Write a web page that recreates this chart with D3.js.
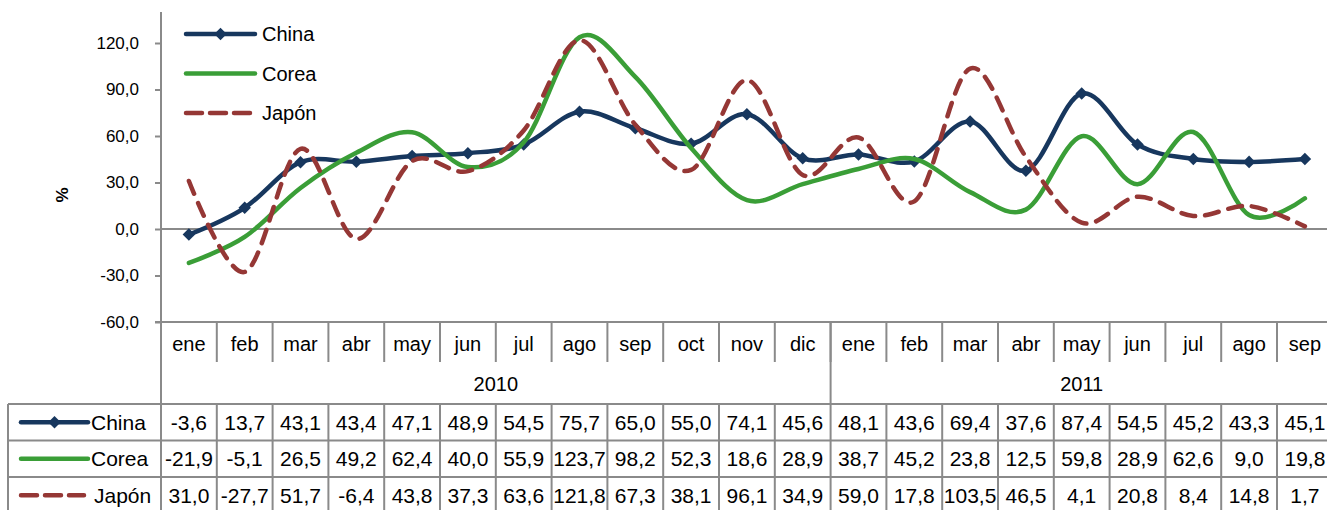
<!DOCTYPE html>
<html>
<head>
<meta charset="utf-8">
<script src="https://cdn.jsdelivr.net/npm/d3@7"></script>
<style>
  body { margin: 0; background: #fff; }
  text { font-family: "Liberation Sans", Arial, sans-serif; fill: #000; }
</style>
</head>
<body>
<div id="chart"></div>
<script>
const months = ["ene","feb","mar","abr","may","jun","jul","ago","sep","oct","nov","dic",
                "ene","feb","mar","abr","may","jun","jul","ago","sep"];
const yearLabels = ["2010", "2011"];
const monthsPerYear = [12, 9];

const china = [-3.6,13.7,43.1,43.4,47.1,48.9,54.5,75.7,65.0,55.0,74.1,45.6,48.1,43.6,69.4,37.6,87.4,54.5,45.2,43.3,45.1];
const corea = [-21.9,-5.1,26.5,49.2,62.4,40.0,55.9,123.7,98.2,52.3,18.6,28.9,38.7,45.2,23.8,12.5,59.8,28.9,62.6,9.0,19.8];
const japon = [31.0,-27.7,51.7,-6.4,43.8,37.3,63.6,121.8,67.3,38.1,96.1,34.9,59.0,17.8,103.5,46.5,4.1,20.8,8.4,14.8,1.7];
const yTicks = [-60, -30, 0, 30, 60, 90, 120];

const series = [
    { name: "China", values: china, color: "#17375e", dash: null, marker: true },
    { name: "Corea", values: corea, color: "#3a9e37", dash: null, marker: false },
    { name: "Japón", values: japon, color: "#953735", dash: "14,10", marker: false }
];

const width = 1327, height = 510;
const plotLeft = 161, bandW = 55.8;
const plotTop = 12, plotBottom = 322;
const catBottom = 362, yearBottom = 404, rowH = 36.5, tableLeft = 8;
const gridColor = "#8a8a8a";

// Spanish style: decimal comma, plain hyphen for negatives
const locale = d3.formatLocale({ decimal: ",", thousands: ".", grouping: [3], currency: ["", "€"], minus: "-" });
const fmt = locale.format(".1f");

const svg = d3.select("#chart").append("svg")
    .attr("width", width)
    .attr("height", height);

const x = d3.scaleBand()
    .domain(d3.range(months.length))
    .range([plotLeft, plotLeft + bandW * months.length]);

const y = d3.scaleLinear()
    .domain([-60, 140])
    .range([plotBottom, plotTop]);

const xMid = i => x(i) + x.bandwidth() / 2;
const xRight = x.range()[1];

// y axis
const yAxis = svg.append("g")
    .attr("transform", "translate(" + plotLeft + ",0)")
    .call(d3.axisLeft(y).tickValues(yTicks).tickSize(6).tickPadding(16).tickFormat(fmt));
yAxis.select(".domain").remove();
yAxis.selectAll(".tick line").attr("stroke", gridColor).attr("stroke-width", 2);
yAxis.selectAll(".tick text").attr("font-size", 17);

svg.append("line")
    .attr("x1", plotLeft).attr("x2", plotLeft)
    .attr("y1", plotTop).attr("y2", yearBottom)
    .attr("stroke", gridColor).attr("stroke-width", 2);

// zero line
svg.append("line")
    .attr("x1", plotLeft).attr("x2", xRight)
    .attr("y1", y(0)).attr("y2", y(0))
    .attr("stroke", gridColor).attr("stroke-width", 2);

svg.append("text")
    .attr("transform", "translate(68,195) rotate(-90)")
    .attr("text-anchor", "middle")
    .attr("font-size", 17)
    .attr("font-weight", "bold")
    .text("%");

// category axis (months and years)
svg.append("line")
    .attr("x1", plotLeft - 6).attr("x2", xRight)
    .attr("y1", y(-60)).attr("y2", y(-60))
    .attr("stroke", gridColor).attr("stroke-width", 2);

svg.selectAll(".mdiv")
    .data(d3.range(1, months.length + 1))
    .enter().append("line")
    .attr("x1", i => x(0) + i * bandW).attr("x2", i => x(0) + i * bandW)
    .attr("y1", y(-60)).attr("y2", catBottom)
    .attr("stroke", gridColor).attr("stroke-width", 2);

svg.selectAll(".mlab")
    .data(months)
    .enter().append("text")
    .attr("x", (d, i) => xMid(i))
    .attr("y", 351)
    .attr("text-anchor", "middle")
    .attr("font-size", 20)
    .text(d => d);

const yearStart = d3.cumsum([0].concat(monthsPerYear));
svg.append("line")
    .attr("x1", x(yearStart[1])).attr("x2", x(yearStart[1]))
    .attr("y1", y(-60)).attr("y2", yearBottom)
    .attr("stroke", gridColor).attr("stroke-width", 2);

yearLabels.forEach((yl, k) => {
    const x0 = x(yearStart[k]);
    const x1 = x0 + monthsPerYear[k] * bandW;
    svg.append("text")
        .attr("x", (x0 + x1) / 2)
        .attr("y", 391)
        .attr("text-anchor", "middle")
        .attr("font-size", 20)
        .text(yl);
});

// lines
const line = d3.line()
    .x((d, i) => xMid(i))
    .y(d => y(d))
    .curve(d3.curveCardinal.tension(0));

const diamond = d3.symbol().type(d3.symbolDiamond2).size(100);

series.forEach(s => {
    svg.append("path")
        .datum(s.values)
        .attr("d", line)
        .attr("fill", "none")
        .attr("stroke", s.color)
        .attr("stroke-width", 4.5)
        .attr("stroke-linecap", "round")
        .attr("stroke-dasharray", s.dash);

    if (s.marker) {
        svg.selectAll(".mk-" + s.name)
            .data(s.values)
            .enter().append("path")
            .attr("d", diamond)
            .attr("transform", (d, i) => "translate(" + xMid(i) + "," + y(d) + ")")
            .attr("fill", s.color);
    }
});

// legend keys
function drawKey(g, s, x0, x1, cy) {
    g.append("line")
        .attr("x1", x0).attr("x2", x1)
        .attr("y1", cy).attr("y2", cy)
        .attr("stroke", s.color)
        .attr("stroke-width", 4.5)
        .attr("stroke-linecap", "round")
        .attr("stroke-dasharray", s.dash ? "16,8" : null);
    if (s.marker) {
        g.append("path")
            .attr("d", diamond)
            .attr("transform", "translate(" + (x0 + x1) / 2 + "," + cy + ")")
            .attr("fill", s.color);
    }
}

series.forEach((s, k) => {
    const cy = 34 + k * 39.5;
    drawKey(svg, s, 186, 255, cy);
    svg.append("text")
        .attr("x", 262).attr("y", cy + 7)
        .attr("font-size", 20)
        .text(s.name);
});

// data table
const rowsY = d3.range(series.length + 1).map(k => yearBottom + k * rowH);
svg.selectAll(".hrow")
    .data(rowsY)
    .enter().append("line")
    .attr("x1", tableLeft).attr("x2", xRight)
    .attr("y1", d => d).attr("y2", d => d)
    .attr("stroke", gridColor).attr("stroke-width", 2);

svg.selectAll(".vcol")
    .data([tableLeft].concat(d3.range(months.length + 1).map(i => x(0) + i * bandW)))
    .enter().append("line")
    .attr("x1", d => d).attr("x2", d => d)
    .attr("y1", yearBottom).attr("y2", rowsY[rowsY.length - 1])
    .attr("stroke", gridColor).attr("stroke-width", 2);

series.forEach((s, k) => {
    const cy = rowsY[k] + rowH / 2;
    drawKey(svg, s, 21, s.dash ? 84 : 88, cy);
    svg.append("text")
        .attr("x", s.dash ? 94 : 91).attr("y", cy + 7.5)
        .attr("font-size", 21)
        .text(s.name);
    svg.selectAll(".val-" + k)
        .data(s.values)
        .enter().append("text")
        .attr("x", (d, i) => xMid(i))
        .attr("y", cy + 7.5)
        .attr("text-anchor", "middle")
        .attr("font-size", 21)
        .text(fmt);
});
</script>
</body>
</html>
